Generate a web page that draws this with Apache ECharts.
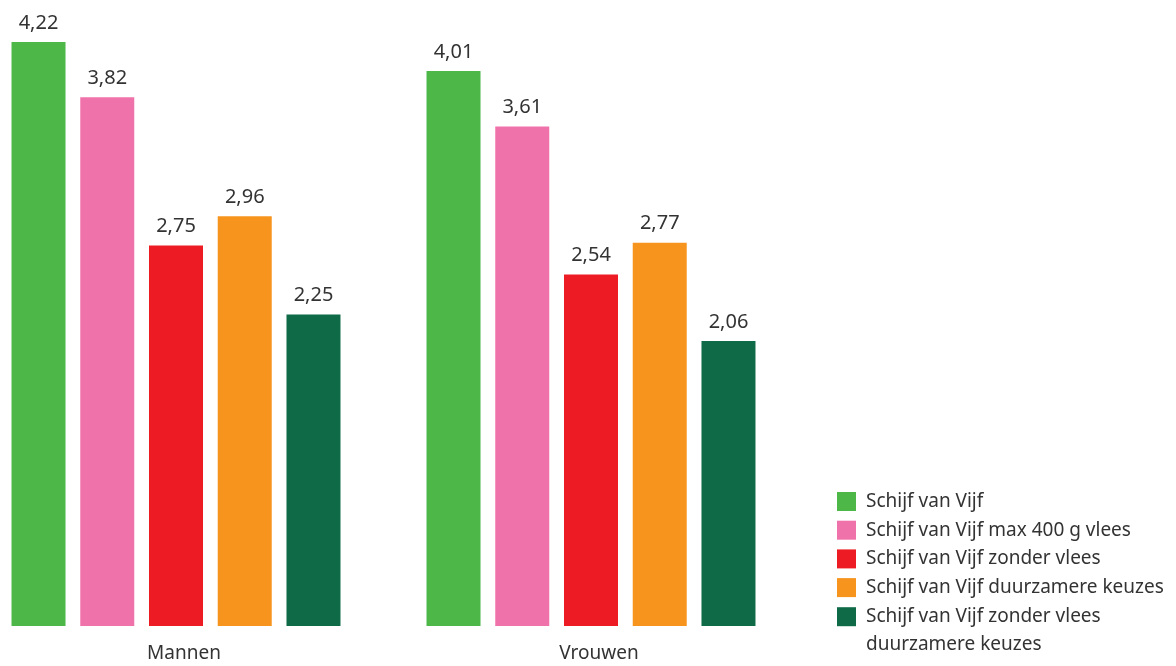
<!DOCTYPE html>
<html>
<head>
<meta charset="utf-8">
<script src="https://cdn.jsdelivr.net/npm/echarts@6/dist/echarts.min.js"></script>
<style>
html,body{margin:0;padding:0;background:#fff;}
#chart{width:1176px;height:666px;}
</style>
</head>
<body>
<div id="chart"></div>
<script>
const categories = ['Mannen', 'Vrouwen'];
const seriesNames = [
  'Schijf van Vijf',
  'Schijf van Vijf max 400 g vlees',
  'Schijf van Vijf zonder vlees',
  'Schijf van Vijf duurzamere keuzes',
  'Schijf van Vijf zonder vlees duurzamere keuzes'
];
const schijfVanVijf = [4.22, 4.01];
const max400gVlees = [3.82, 3.61];
const zonderVlees = [2.75, 2.54];
const duurzamereKeuzes = [2.96, 2.77];
const zonderVleesDuurzaam = [2.25, 2.06];
const colors = ['#4DB848', '#F072AA', '#ED1C24', '#F7941D', '#0E6A47'];

const values = [schijfVanVijf, max400gVlees, zonderVlees, duurzamereKeuzes, zonderVleesDuurzaam];
const FONT = 'Noto Sans';
const TXT = '#333333';

const chart = echarts.init(document.getElementById('chart'), null, {renderer: 'canvas'});
const series = values.map((v, i) => ({
  name: seriesNames[i],
  type: 'bar',
  data: v,
  barWidth: 54,
  barGap: '27.3%',
  clip: false,
  itemStyle: {color: colors[i]},
  label: {
    show: true,
    position: 'top',
    distance: 9,
    color: TXT,
    fontFamily: FONT,
    fontSize: 20,
    formatter: p => p.value.toFixed(2).replace('.', ',')
  }
}));

const legendBase = {
  orient: 'vertical',
  left: 837,
  height: 400,
  padding: 0,
  itemWidth: 19,
  itemHeight: 19,
  itemGap: 9.7,
  icon: 'rect'
};

chart.setOption({
  animation: false,
  color: colors,
  grid: {left: 176, width: 415, top: 3.2, bottom: 40, containLabel: false},
  xAxis: {
    type: 'category',
    data: categories,
    boundaryGap: false,
    axisLine: {show: false},
    axisTick: {show: false},
    splitLine: {show: false},
    axisLabel: {
      color: TXT, fontFamily: FONT, fontSize: 19, margin: 18,
      padding: [0, 0, 0, 16]
    }
  },
  yAxis: {
    type: 'value',
    min: 0,
    max: 4.5,
    show: false,
    splitLine: {show: false}
  },
  legend: [
    Object.assign({}, legendBase, {
      top: 492,
      data: seriesNames.slice(0, 4),
      textStyle: {
        color: TXT, fontFamily: FONT, fontSize: 19,
        rich: {t: {color: TXT, fontFamily: FONT, fontSize: 19, padding: [0, 0, 0, 5]}}
      },
      formatter: name => '{t|' + name + '}'
    }),
    Object.assign({}, legendBase, {
      top: 574.7,
      data: [seriesNames[4]],
      textStyle: {
        color: TXT, fontFamily: FONT, fontSize: 19, lineHeight: 28,
        rich: {t: {color: TXT, fontFamily: FONT, fontSize: 19, lineHeight: 28, padding: [0, 0, 0, 5]}}
      },
      formatter: () => '\n{t|Schijf van Vijf zonder vlees}\n{t|duurzamere keuzes}'
    })
  ],
  series: series
});
</script>
</body>
</html>
